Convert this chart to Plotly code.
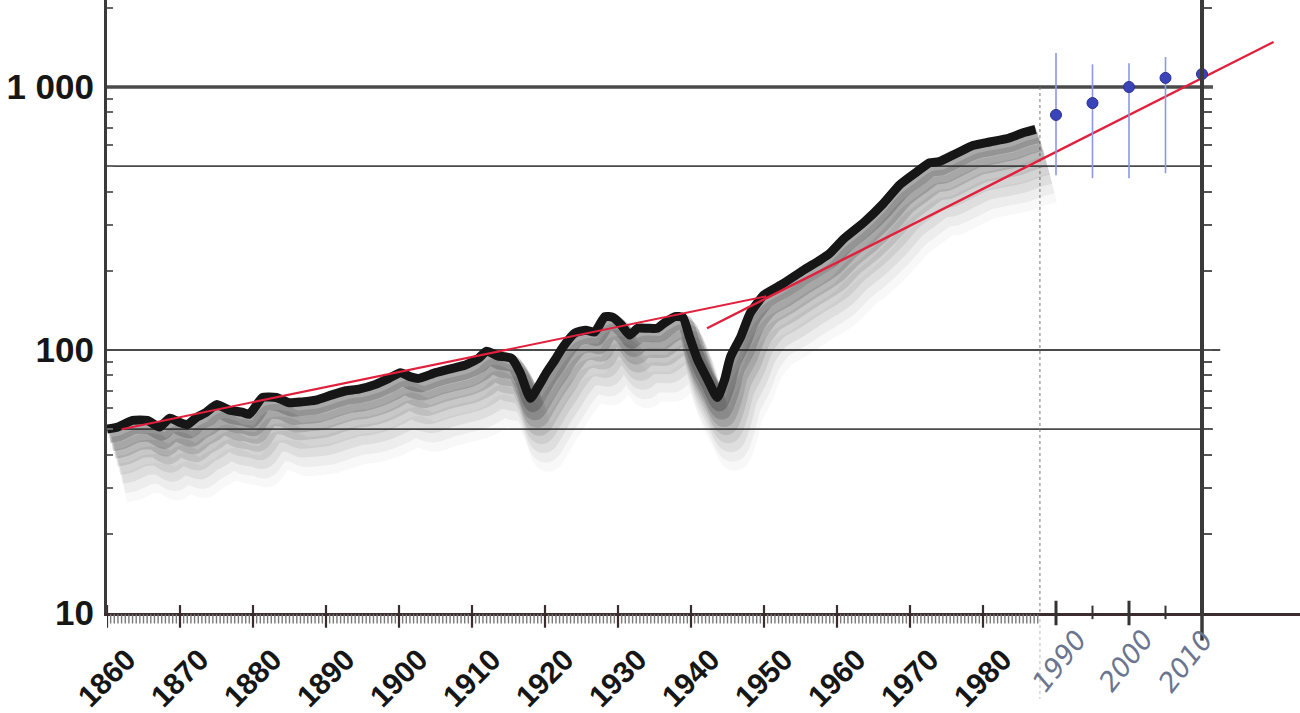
import plotly.graph_objects as go
import numpy as np

# ---------------- data ----------------
years = [1860, 1861.5, 1863.5, 1865.5, 1867.2, 1868.6, 1870, 1871, 1872.3, 1873.6,
         1875, 1876.8, 1878.5, 1879.5, 1881.3, 1883.2, 1885, 1886.7, 1888.6, 1890.8,
         1892.7, 1894.5, 1896.8, 1898.6, 1900.2, 1901.6, 1902.7, 1905, 1907.2, 1909,
         1910.9, 1912, 1913.5, 1915.4, 1916.6, 1918, 1919, 1920.2, 1921.4, 1922.5,
         1924.1, 1925.6, 1926.8, 1928.2, 1929.3, 1930.4, 1931.6, 1932.7, 1934, 1935.4,
         1936.4, 1937.8, 1938.9, 1939.8, 1940.9, 1942.3, 1943.6, 1944.6, 1945.4, 1946.8,
         1948.1, 1950, 1952.5, 1955.5, 1957.7, 1959, 1961, 1963.7, 1966.4, 1968.6,
         1970.9, 1972.7, 1974, 1976.4, 1978.7, 1980.9, 1983.6, 1985.5, 1987.2]
values = [50, 51, 54, 54, 51, 55, 53, 52, 55.5, 58,
          62, 59, 58, 57, 66, 66, 63, 63.5, 64.5, 67.5,
          70, 71, 74, 78, 82, 79, 78, 82, 85, 87.5,
          93, 99, 95, 93, 82, 65.5, 72, 82, 92, 103,
          116, 119, 117, 134, 133, 125, 114, 121, 121, 121,
          127, 134, 133, 112, 92, 77, 66, 77, 94, 112,
          138, 162, 178, 202, 220, 233, 266, 306, 362, 425,
          475, 515, 520, 560, 600, 618, 640, 670, 690]

trend1_years = [1862, 1950.3]
trend1_values = [50, 160]
trend2_years = [1942.2, 2019.8]
trend2_values = [121, 1483]

est_years = [1990, 1995, 2000, 2005, 2010]
est_values = [783, 869, 1000, 1083, 1120]
bar_years = [1990, 1995, 2000, 2005]
bar_low = [462, 450, 450, 470]
bar_high = [1346, 1220, 1230, 1300]

x_tick_years = [1860, 1870, 1880, 1890, 1900, 1910, 1920, 1930, 1940, 1950, 1960, 1970, 1980]
x_tick_labels = ["1860", "1870", "1880", "1890", "1900", "1910", "1920", "1930",
                 "1940", "1950", "1960", "1970", "1980"]
hand_label_years = [1990.5, 1999.6, 2007.8]
hand_labels = ["1990", "2000", "2010"]
hand_tick_years = [1990, 1995, 2000, 2005]

y_tick_vals = [10, 100, 1000]
y_tick_text = ["10", "100", "1 000"]
y_minor_vals = [20, 30, 40, 50, 60, 70, 80, 90, 200, 300, 400, 500, 600, 700, 800, 900, 2000]

grid_values = [1000, 500, 100, 50]
grid_ends = [2011.5, 2010.5, 2012.5, 2011.5]
grid_widths = [3.5, 1.6, 2.2, 1.6]

X_MAX = 1860 + 1193 / 7.30
Y_TOP = 1 + 613 / 263.0
PRINT_EDGE = 1987.8
RIGHT_AXIS = 2010

fig = go.Figure()

# shadow (blurred grey band below the curve)
sh_years = np.array(years)
sh_vals = np.array(values)
layers = [(0.95, 0.3, 16, 0.26), (0.90, 0.6, 20, 0.20), (0.85, 0.9, 22, 0.16),
          (0.80, 1.2, 24, 0.12), (0.75, 1.5, 26, 0.09), (0.70, 1.8, 28, 0.07),
          (0.65, 2.1, 30, 0.05), (0.60, 2.4, 30, 0.035)]
for f, dx, w, a in layers:
    fig.add_trace(go.Scatter(x=sh_years + dx, y=sh_vals * f, mode="lines",
                             line=dict(color=f"rgba(45,45,45,{a})", width=w, shape="spline", smoothing=0.7),
                             hoverinfo="skip", showlegend=False))

# main curve
fig.add_trace(go.Scatter(x=years, y=values, mode="lines",
                         line=dict(color="#161616", width=9, shape="spline", smoothing=0.5),
                         showlegend=False))

# trend lines
fig.add_trace(go.Scatter(x=trend1_years, y=trend1_values, mode="lines",
                         line=dict(color="#e0203c", width=2), showlegend=False))
fig.add_trace(go.Scatter(x=trend2_years, y=trend2_values, mode="lines",
                         line=dict(color="#e0203c", width=2.4), showlegend=False))

# blue estimate bars and dots
for bx, lo, hi in zip(bar_years, bar_low, bar_high):
    fig.add_trace(go.Scatter(x=[bx, bx], y=[lo, hi], mode="lines",
                             line=dict(color="#8c96ea", width=1.6), showlegend=False))
fig.add_trace(go.Scatter(x=est_years, y=est_values, mode="markers",
                         marker=dict(color="#3a44b8", size=11, line=dict(color="#2a3090", width=1)),
                         showlegend=False))

shapes = []
for gv, ge, gw in zip(grid_values, grid_ends, grid_widths):
    shapes.append(dict(type="line", xref="x", yref="y", x0=1860, x1=ge, y0=gv, y1=gv,
                       line=dict(color="#4a4a4a", width=gw), layer="below"))
# hatch band of fine ticks below the printed axis
hatch_x = np.arange(1860, PRINT_EDGE, 0.5)
hatch_path = " ".join(f"M{hx:.2f},-0.002 L{hx:.2f},-0.017" for hx in hatch_x)
shapes.append(dict(type="path", xref="x", yref="paper", path=hatch_path,
                   line=dict(color="#7a7a7a", width=1.4)))
# dotted edge of printed chart
shapes.append(dict(type="line", xref="x", yref="y", x0=PRINT_EDGE, x1=PRINT_EDGE, y0=1000, y1=10,
                   line=dict(color="#777", width=1, dash="dot"), layer="below"))
shapes.append(dict(type="line", xref="x", yref="paper", x0=PRINT_EDGE, x1=PRINT_EDGE, y0=0, y1=-0.14,
                   line=dict(color="#bbb", width=1, dash="dot"), layer="below"))
# decade ticks crossing the axis
for ty in x_tick_years:
    shapes.append(dict(type="line", xref="x", yref="paper", x0=ty, x1=ty, y0=-0.024, y1=0.013,
                       line=dict(color="#3b2d2d", width=2.2)))
# handwritten ticks
for i, ty in enumerate(hand_tick_years):
    big = (i % 2 == 0)
    shapes.append(dict(type="line", xref="x", yref="paper", x0=ty, x1=ty,
                       y0=-0.02 if big else -0.01, y1=0.02 if big else 0.012,
                       line=dict(color="#333", width=3 if big else 2)))
# right axis extension below
shapes.append(dict(type="line", xref="x", yref="paper", x0=RIGHT_AXIS, x1=RIGHT_AXIS, y0=0, y1=-0.045,
                   line=dict(color="#3a3a3a", width=3.5)))

annotations = []
for hx, ht in zip(hand_label_years, hand_labels):
    annotations.append(dict(x=hx, y=-0.078, xref="x", yref="paper", text=ht, showarrow=False,
                            xanchor="center", yanchor="middle", textangle=-52,
                            font=dict(family="DejaVu Sans", size=27, color="#6b7590",
                                      style="italic", weight=300)))

fig.update_layout(
    width=1300, height=713,
    margin=dict(l=107, r=0, t=0, b=100),
    paper_bgcolor="white", plot_bgcolor="white",
    shapes=shapes, annotations=annotations,
    xaxis=dict(range=[1860, X_MAX], showline=True, linecolor="#3b2d2d", linewidth=3,
               tickmode="array", tickvals=x_tick_years, ticktext=x_tick_labels,
               tickangle=-45, ticks="", showgrid=False, zeroline=False,
               ticklabelstandoff=14, ticklabelshift=20,
               tickfont=dict(family="Liberation Sans", size=30, color="#161616", weight="bold")),
    yaxis=dict(type="log", range=[1, Y_TOP], showline=True, linecolor="#3a3a3a", linewidth=3,
               tickmode="array", tickvals=y_tick_vals, ticktext=y_tick_text,
               ticks="", showgrid=False, zeroline=False, ticklabelstandoff=3,
               tickfont=dict(family="Liberation Sans", size=35, color="#161616", weight="bold"),
               minor=dict(ticks="inside", ticklen=6, tickwidth=1.5, tickcolor="#666",
                          tickmode="array", tickvals=y_minor_vals, showgrid=False)),
    yaxis2=dict(type="log", range=[1, Y_TOP], overlaying="y", anchor="free",
                position=(RIGHT_AXIS - 1860) / (X_MAX - 1860), side="right",
                showline=True, linecolor="#3a3a3a", linewidth=3.5,
                tickmode="array", tickvals=y_minor_vals + [100, 1000],
                ticks="outside", ticklen=8, tickwidth=1.5, tickcolor="#555",
                showgrid=False, zeroline=False, showticklabels=False),
)
fig.add_trace(go.Scatter(x=[None], y=[None], yaxis="y2", showlegend=False))

fig.write_html("out.html", config={"displayModeBar": False},
               post_script="document.body.style.margin='0';document.body.style.overflow='hidden';")
